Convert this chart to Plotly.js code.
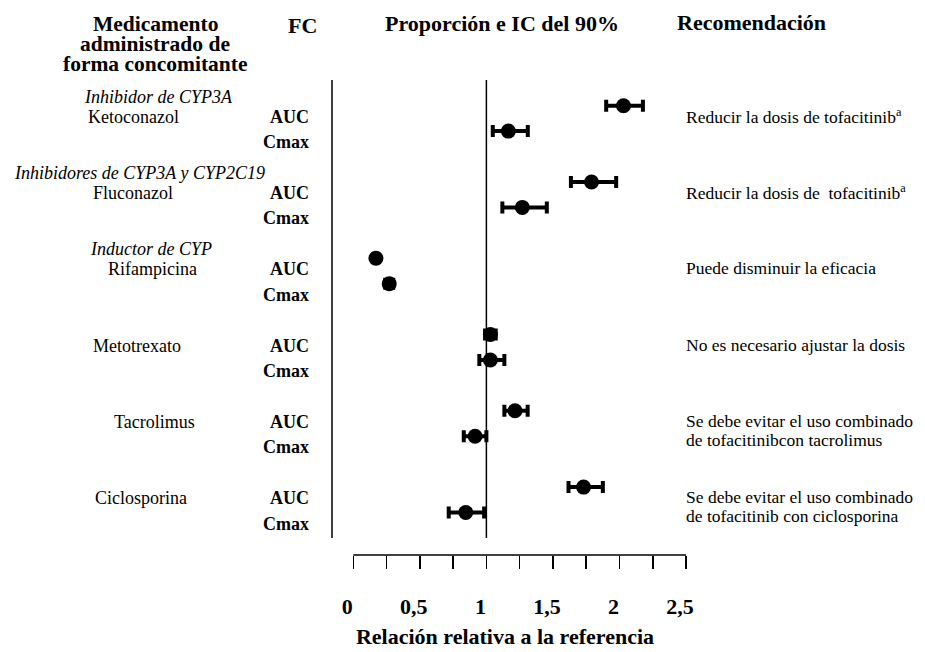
<!DOCTYPE html>
<html><head><meta charset="utf-8">
<script src="https://cdn.plot.ly/plotly-3.0.1.min.js"></script>
<style>html,body{margin:0;padding:0;background:#fff}#chart{width:925px;height:652px}</style>
</head><body><div id="chart"></div>
<script>
// ---- data ----
const drugs = ['Ketoconazol','Fluconazol','Rifampicina','Metotrexato','Tacrolimus','Ciclosporina'];
const drugClasses = ['Inhibidor de CYP3A','Inhibidores de CYP3A y CYP2C19','Inductor de CYP','','',''];
const pkParams = ['AUC','Cmax'];
const aucRatio  = [2.03, 1.79, 0.17, 1.03, 1.215, 1.73];
const aucLow    = [1.90, 1.635, 0.15, 0.99, 1.135, 1.617];
const aucHigh   = [2.176, 1.975, 0.19, 1.07, 1.31, 1.875];
const cmaxRatio = [1.165, 1.27, 0.27, 1.03, 0.915, 0.845];
const cmaxLow   = [1.048, 1.12, 0.24, 0.947, 0.83, 0.717];
const cmaxHigh  = [1.311, 1.454, 0.30, 1.135, 1.0, 0.983];
const recommendations = [
  'Reducir la dosis de tofacitinib<sup>a</sup>',
  'Reducir la dosis de\u00a0 tofacitinib<sup>a</sup>',
  'Puede disminuir la eficacia',
  'No es necesario ajustar la dosis',
  'Se debe evitar el uso combinado|de tofacitinibcon tacrolimus',
  'Se debe evitar el uso combinado|de tofacitinib con ciclosporina'
];
const headerLeft = ['Medicamento','administrado de','forma concomitante'];
const headerFC = 'FC';
const headerPlot = 'Proporción e IC del 90%';
const headerRec = 'Recomendación';
const xTickVals = [0,0.25,0.5,0.75,1,1.25,1.5,1.75,2,2.25,2.5];
const xTickText = ['0','','0,5','','1','','1,5','','2','','2,5'];
const xTitle = 'Relación relativa a la referencia';
const refValue = 1;

// ---- layout helpers (positions, not data) ----
const FONT = 'Liberation Serif, Times New Roman, serif';
const M = {l:323, r:238, t:80, b:97};
const W = 925 - M.l - M.r, H = 652 - M.t - M.b;
const px = x => (x - M.l) / W;
const py = y => (652 - M.b - y) / H;
const drugLabelX = [133, 133, 152, 137, 154, 141];
const classLabelX = [158, 139, 151];
const rowY = (g, p) => 3 * g + p;

// ---- traces ----
const xs = [], ys = [], ep = [], em = [];
drugs.forEach((d, g) => {
  xs.push(aucRatio[g]); ys.push(rowY(g,0)); ep.push(aucHigh[g]-aucRatio[g]); em.push(aucRatio[g]-aucLow[g]);
  xs.push(cmaxRatio[g]); ys.push(rowY(g,1)); ep.push(cmaxHigh[g]-cmaxRatio[g]); em.push(cmaxRatio[g]-cmaxLow[g]);
});
const trace = {
  type: 'scatter', mode: 'markers', x: xs, y: ys,
  marker: {color: '#000', size: 15},
  error_x: {type: 'data', symmetric: false, array: ep, arrayminus: em, color: '#000', thickness: 4, width: 6},
  hoverinfo: 'x', showlegend: false
};

// ---- annotations ----
const ann = [];
const pix = (text, x, y, size, extra) => Object.assign({
  text, xref: 'paper', yref: 'paper', x: px(x), y: py(y), xanchor: 'center', yanchor: 'middle',
  showarrow: false, font: {family: FONT, size: size, color: '#000'}
}, extra || {});
const hdrY = [24, 44, 64];
headerLeft.forEach((t, i) => ann.push(pix('<b>' + t + '</b>', 155, hdrY[i], 21.5)));
ann.push(pix('<b>' + headerFC + '</b>', 302, 25, 22));
ann.push(pix('<b>' + headerRec + '</b>', 675, 23, 22, {xanchor: 'left'}));

drugs.forEach((d, g) => {
  pkParams.forEach((p, k) => {
    ann.push({text: '<b>' + p + '</b>', xref: 'paper', yref: 'y', x: px(311), y: rowY(g,k), yshift: -11,
      xanchor: 'right', yanchor: 'middle', showarrow: false, font: {family: FONT, size: 18, color: '#000'}});
  });
  ann.push({text: d, xref: 'paper', yref: 'y', x: px(drugLabelX[g]), y: rowY(g,0), yshift: -11,
    xanchor: 'center', yanchor: 'middle', showarrow: false, font: {family: FONT, size: 18, color: '#000'}});
  if (drugClasses[g]) {
    ann.push({text: '<i>' + drugClasses[g] + '</i>', xref: 'paper', yref: 'y', x: px(classLabelX[g]), y: rowY(g,0), yshift: 9,
      xanchor: 'center', yanchor: 'middle', showarrow: false, font: {family: FONT, size: 18, color: '#000'}});
  }
  recommendations[g].split('|').forEach((line, i) => {
    ann.push({text: line, xref: 'paper', yref: 'y', x: px(684), y: rowY(g,0), yshift: -10 - 19 * i,
      xanchor: 'left', yanchor: 'middle', showarrow: false, font: {family: FONT, size: 17.5, color: '#000'}});
  });
});

// ---- shapes ----
const shapes = [
  {type: 'line', xref: 'x', yref: 'y', x0: -0.16, x1: -0.16, y0: -1.05, y1: 17, line: {color: '#000', width: 1.5}},
  {type: 'line', xref: 'x', yref: 'y', x0: refValue, x1: refValue, y0: -1.05, y1: 17, line: {color: '#000', width: 1.5}},
  {type: 'line', xref: 'x', yref: 'paper', x0: xTickVals[0], x1: xTickVals[xTickVals.length-1], y0: 0, y1: 0, line: {color: '#000', width: 1.5}}
];

const layout = {
  width: 925, height: 652,
  margin: M,
  paper_bgcolor: '#fff', plot_bgcolor: '#fff',
  title: {text: '<b>' + headerPlot + '</b>', x: 502/925, xanchor: 'center', y: 1 - 23/652, yanchor: 'middle',
    font: {family: FONT, size: 22, color: '#000'}},
  xaxis: {
    range: [-0.2276, 2.5072], showgrid: false, zeroline: false, showline: false,
    tickmode: 'array', tickvals: xTickVals, ticktext: xTickText,
    ticks: 'outside', ticklen: 13, tickwidth: 1.5, tickcolor: '#000',
    ticklabelstandoff: 19, ticklabelshift: -6,
    tickfont: {family: FONT, size: 22, color: '#000', weight: 'bold'},
    title: {text: '<b>' + xTitle + '</b>', font: {family: FONT, size: 22, color: '#000'}, standoff: 10},
    fixedrange: true
  },
  yaxis: {range: [17.67, -1.01], visible: false, fixedrange: true},
  shapes, annotations: ann,
  showlegend: false
};
Plotly.newPlot('chart', [trace], layout, {displayModeBar: false, staticPlot: true});
</script>
</body></html>
